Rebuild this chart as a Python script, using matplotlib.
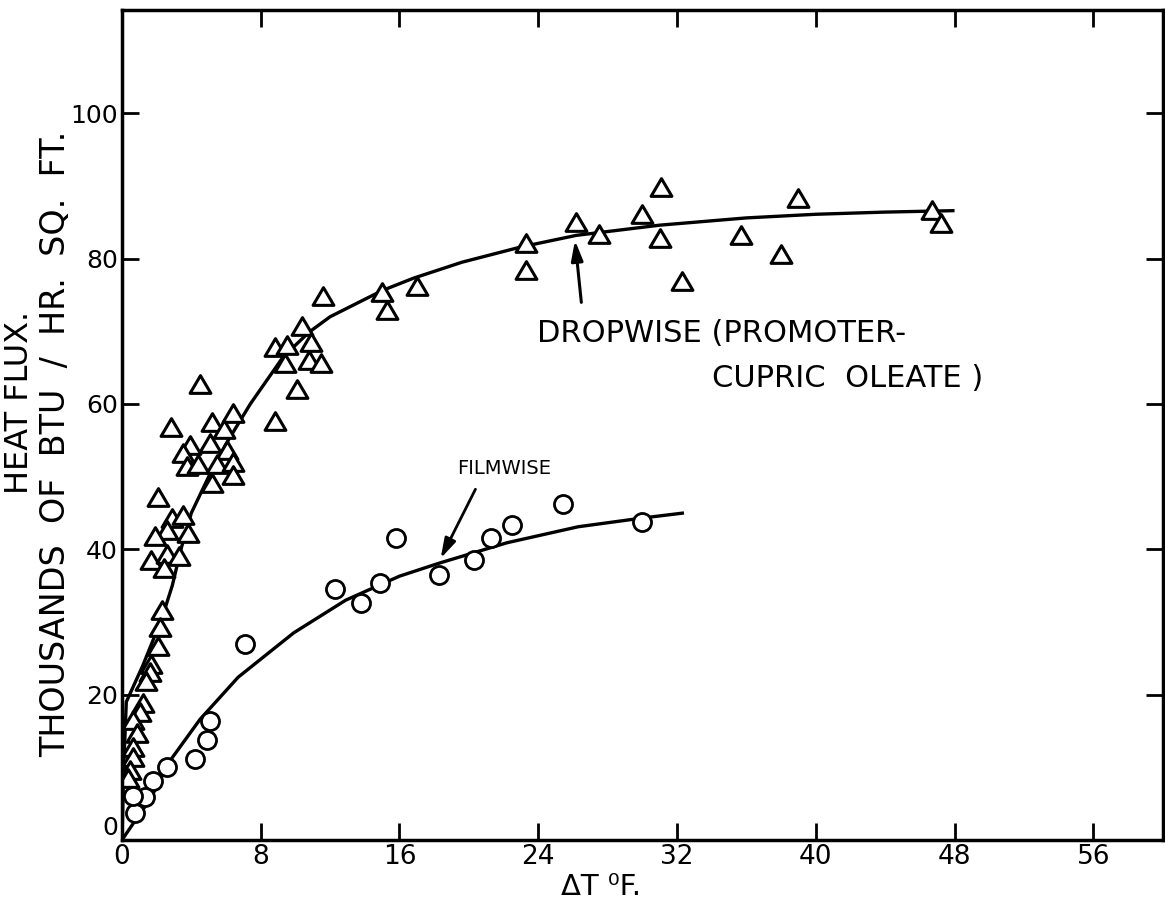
import matplotlib
matplotlib.use("Agg")
import matplotlib.pyplot as plt
from matplotlib.path import Path

# dropwise condensation points (delta T in F, heat flux in 1000 BTU/hr sq ft)
drop_dt = [31.1, 39.0, 30.0, 26.2, 27.5, 31.0, 23.3, 35.7, 23.3, 38.0, 32.3,
           46.7, 47.2, 15.0, 15.3, 17.0, 11.6, 10.4, 8.8, 9.5, 10.9, 9.4,
           10.8, 11.5, 10.1, 8.8, 4.5, 2.8, 6.4, 5.2, 5.9, 3.9, 3.5, 5.1,
           6.05, 3.75, 4.4, 5.5, 6.4, 5.2, 6.4, 2.1, 2.9, 3.5, 3.8, 2.6, 1.9,
           1.7, 2.6, 3.3, 2.4, 2.3, 2.2, 2.1, 1.7, 1.6, 1.4, 1.2, 1.05, 0.65,
           0.85, 0.65, 0.65, 0.45, 0.35]
drop_q = [89.8, 88.4, 86.2, 85.1, 83.4, 82.8, 82.1, 83.2, 78.5, 80.6, 76.9,
          86.7, 84.9, 75.4, 72.9, 76.2, 74.8, 70.7, 67.9, 68.1, 68.5, 65.7,
          66.0, 65.6, 62.0, 57.6, 62.7, 56.8, 58.7, 57.5, 56.5, 54.3, 53.2, 54.6,
          53.6, 51.4, 51.7, 51.7, 52.0, 49.1, 50.2, 47.2, 44.3, 44.7, 42.2, 42.6, 41.8,
          38.5, 39.3, 39.1, 37.4, 31.6, 29.3, 26.7, 24.2, 23.1, 21.9, 18.8, 17.6, 16.5,
          14.7, 12.8, 11.4, 9.6, 8.5]

# filmwise condensation points
film_dt = [25.4, 30.0, 22.5, 21.3, 20.3, 18.3, 15.8, 14.9, 13.8, 12.3, 7.1,
           5.1, 4.9, 4.2, 2.6, 1.8, 0.75, 1.3, 0.65]
film_q = [46.2, 43.7, 43.4, 41.5, 38.5, 36.4, 41.5, 35.3, 32.6, 34.5, 27.0,
          16.4, 13.8, 11.2, 10.1, 8.1, 3.7, 5.9, 6.1]

# hand drawn curves
drop_curve_dt = [0, 0.1, 0.25, 1.2, 2.3, 2.9, 3.4, 4.0, 5.0, 6.0, 7.4, 9.3, 10.8,
                 12.0, 13.5, 15.0, 16.8, 19.6, 23.0, 26.2, 31.0, 36.0, 40.0, 44.0, 48.0]
drop_curve_q = [0, 10, 19, 24, 30.5, 35, 40, 45, 50, 54.5, 60, 66.5, 69.9,
                72, 73.8, 75.6, 77.3, 79.5, 81.6, 83.2, 84.6, 85.6, 86.1, 86.4, 86.6]
film_curve_dt = [0, 0.8, 1.6, 2.8, 4.5, 6.7, 9.9, 12.9, 16.0, 18.3, 22.2, 26.3, 30.0, 32.4]
film_curve_q = [0, 2.8, 5.5, 11.0, 16.6, 22.4, 28.5, 33.0, 36.3, 38.1, 40.9, 43.1, 44.3, 45.0]

x_ticks = [0, 8, 16, 24, 32, 40, 48, 56]
y_ticks = [0, 20, 40, 60, 80, 100]

# open triangle, a bit wider than tall
tri = Path([(0, 0.85), (-1, -0.85), (1, -0.85), (0, 0.85)], closed=True)

fig = plt.figure(figsize=(11.65, 9.15), dpi=100)
ax = fig.add_axes([0.1047, 0.082, 0.8933, 0.907])

ax.plot(drop_curve_dt, drop_curve_q, color='black', lw=2.4, solid_capstyle='butt')
ax.plot(film_curve_dt, film_curve_q, color='black', lw=2.4, solid_capstyle='butt')
ax.plot(drop_dt, drop_q, ls='none', marker=tri, ms=15, mfc='white', mec='black',
        mew=2.2)
ax.plot(film_dt, film_q, ls='none', marker='o', ms=13, mfc='white', mec='black', mew=2.0)

ax.set_xlim(0, 60)
ax.set_ylim(0, 114.2)
ax.set_xticks(x_ticks)
ax.set_yticks(y_ticks)
ax.tick_params(direction='in', length=12, width=2, top=True, right=True,
               labelsize=18, pad=3)
ax.tick_params(axis='x', labelsize=19)
for s in ax.spines.values():
    s.set_linewidth(2.5)
# the y "0" sits a little above the corner
ax.get_yticklabels()[0].set_va('bottom')

ax.set_xlabel('ΔT ⁰F.', fontsize=21, labelpad=2, x=0.46)

fig.text(0.017, 0.56, 'HEAT FLUX.', rotation=90, fontsize=23, ha='center', va='center')
fig.text(0.048, 0.515, 'THOUSANDS  OF  BTU  /  HR.  SQ.  FT.', rotation=90, fontsize=24,
         ha='center', va='center')

ax.annotate('', xy=(26.1, 82.9), xytext=(26.5, 73.6),
            arrowprops=dict(arrowstyle='-|>,head_length=1.2,head_width=0.35',
                            color='black', lw=2.2))
ax.text(23.9, 69.7, 'DROPWISE (PROMOTER-', fontsize=22, va='center', ha='left')
ax.text(34.0, 63.5, 'CUPRIC  OLEATE )', fontsize=22, va='center', ha='left')

ax.annotate('', xy=(18.3, 38.4), xytext=(20.45, 48.6),
            arrowprops=dict(arrowstyle='-|>,head_length=1.2,head_width=0.35',
                            color='black', lw=2.0))
ax.text(19.3, 51.1, 'FILMWISE', fontsize=14, va='center', ha='left')

fig.savefig('out.png', dpi=100)
